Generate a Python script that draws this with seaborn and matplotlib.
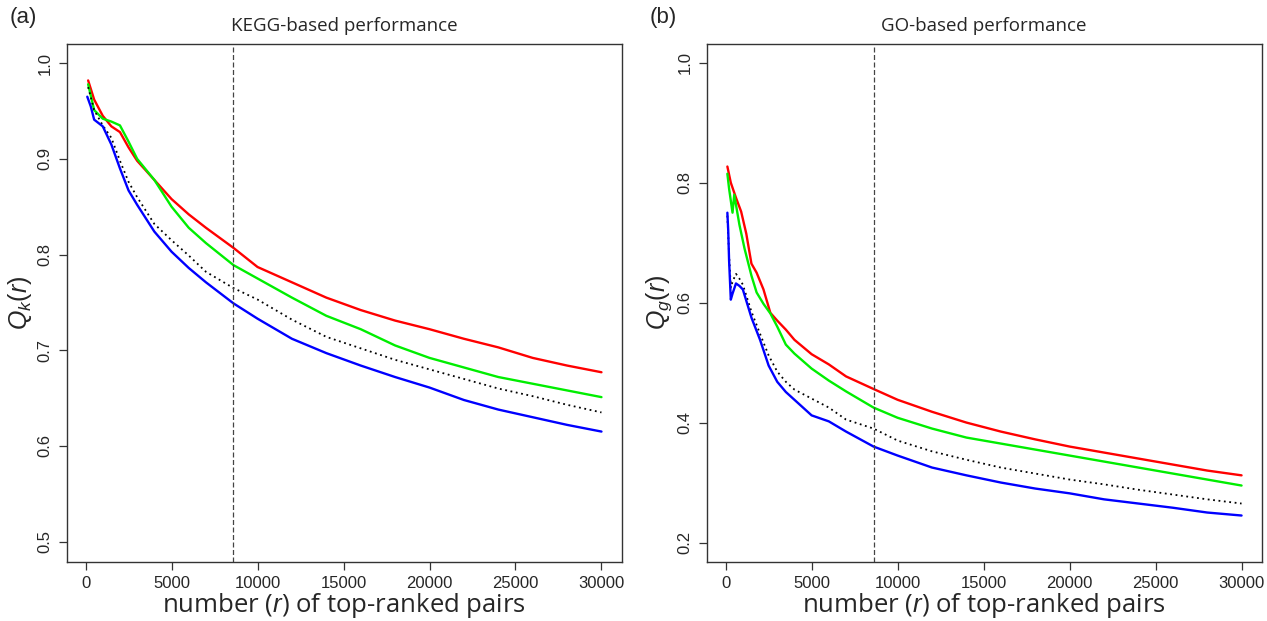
import matplotlib
matplotlib.use('Agg')
import matplotlib.pyplot as plt
import pandas as pd
import seaborn as sns

# ---- panel (a): KEGG ----
kegg_red_x = [150, 500, 1000, 1500, 2000, 2500, 3000, 4000, 5000, 6000, 7000, 8600, 10000, 12000,
              14000, 16000, 18000, 20000, 22000, 24000, 26000, 28000, 30000]
kegg_red_y = [0.982, 0.962, 0.945, 0.934, 0.928, 0.912, 0.898, 0.878, 0.858, 0.842, 0.828, 0.807, 0.787,
              0.771, 0.755, 0.742, 0.731, 0.722, 0.712, 0.703, 0.692, 0.684, 0.677]

kegg_green_x = kegg_red_x
kegg_green_y = [0.978, 0.951, 0.942, 0.939, 0.935, 0.918, 0.900, 0.878, 0.850, 0.828, 0.812, 0.789, 0.775,
                0.755, 0.736, 0.722, 0.705, 0.692, 0.682, 0.672, 0.665, 0.658, 0.651]

kegg_black_x = kegg_red_x
kegg_black_y = [0.975, 0.951, 0.935, 0.922, 0.898, 0.876, 0.860, 0.832, 0.815, 0.799, 0.782, 0.765, 0.753,
                0.732, 0.714, 0.702, 0.690, 0.680, 0.670, 0.660, 0.652, 0.643, 0.635]

kegg_blue_x = [100, 300, 500, 1000, 1500, 2000, 2500, 3000, 4000, 5000, 6000, 7000, 8600, 10000, 12000,
               14000, 16000, 18000, 20000, 22000, 24000, 26000, 28000, 30000]
kegg_blue_y = [0.965, 0.955, 0.941, 0.934, 0.915, 0.890, 0.867, 0.852, 0.824, 0.803, 0.786, 0.771, 0.749,
               0.733, 0.712, 0.697, 0.684, 0.672, 0.661, 0.648, 0.638, 0.630, 0.622, 0.615]

# ---- panel (b): GO ----
go_red_x = [100, 300, 600, 900, 1200, 1500, 1800, 2200, 2600, 3000, 3500, 4000, 5000, 6000, 7000, 8600,
            10000, 12000, 14000, 16000, 18000, 20000, 22000, 24000, 26000, 28000, 30000]
go_red_y = [0.827, 0.800, 0.775, 0.752, 0.715, 0.665, 0.650, 0.622, 0.583, 0.570, 0.555, 0.538, 0.514,
            0.497, 0.477, 0.456, 0.438, 0.418, 0.400, 0.385, 0.372, 0.360, 0.350, 0.340, 0.330, 0.320, 0.312]

go_green_x = [100, 200, 400, 500, 800, 1100, 1500, 1800, 2200, 2600, 3000, 3500, 4000, 5000, 6000, 7000,
              8600, 10000, 12000, 14000, 16000, 18000, 20000, 22000, 24000, 26000, 28000, 30000]
go_green_y = [0.815, 0.790, 0.750, 0.780, 0.730, 0.690, 0.645, 0.617, 0.598, 0.582, 0.560, 0.530, 0.515,
              0.490, 0.470, 0.452, 0.425, 0.408, 0.390, 0.375, 0.365, 0.355, 0.345, 0.335, 0.325, 0.315,
              0.305, 0.295]

go_black_x = [100, 200, 300, 400, 600, 800, 1000, 1500, 2000, 2500, 3000, 3500, 4000, 5000, 6000, 7000,
              8600, 10000, 12000, 14000, 16000, 18000, 20000, 22000, 24000, 26000, 28000, 30000]
go_black_y = [0.745, 0.680, 0.625, 0.635, 0.648, 0.640, 0.630, 0.585, 0.548, 0.512, 0.485, 0.468, 0.455,
              0.440, 0.425, 0.405, 0.390, 0.370, 0.352, 0.338, 0.325, 0.315, 0.305, 0.297, 0.288, 0.280,
              0.272, 0.265]

go_blue_x = [100, 150, 200, 300, 400, 600, 800, 1000, 1500, 2000, 2500, 3000, 3500, 4000, 5000, 6000,
             7000, 8600, 10000, 12000, 14000, 16000, 18000, 20000, 22000, 24000, 26000, 28000, 30000]
go_blue_y = [0.750, 0.720, 0.670, 0.605, 0.615, 0.632, 0.628, 0.622, 0.575, 0.538, 0.495, 0.468, 0.451,
             0.438, 0.412, 0.402, 0.385, 0.360, 0.345, 0.325, 0.312, 0.300, 0.290, 0.282, 0.272, 0.265,
             0.258, 0.250, 0.245]

cutoff = 8600
x_ticks = [0, 5000, 10000, 15000, 20000, 25000, 30000]
kegg_yticks = [0.5, 0.6, 0.7, 0.8, 0.9, 1.0]
go_yticks = [0.2, 0.4, 0.6, 0.8, 1.0]

sns.set_style('white')
plt.rcParams['font.family'] = ['Liberation Sans', 'DejaVu Sans']
plt.rcParams['mathtext.fontset'] = 'custom'
plt.rcParams['mathtext.it'] = 'Liberation Sans:italic'
plt.rcParams['mathtext.rm'] = 'Liberation Sans'

fig = plt.figure(figsize=(12.67, 6.21), dpi=100)
ax_a = fig.add_axes([0.0526, 0.0955, 0.438, 0.8343])
ax_b = fig.add_axes([0.5578, 0.0955, 0.438, 0.8343])


def _draw_panel(ax, series, yticks, ylim, ylabel, title, tag):
    for xs, ys, color, ls, lw in series:
        df = pd.DataFrame({'r': xs, 'q': ys})
        sns.lineplot(data=df, x='r', y='q', ax=ax, color=color, linestyle=ls, linewidth=lw)
    ax.axvline(cutoff, color='#444444', linestyle=(0, (4, 2)), linewidth=0.9)
    ax.set_xlim(-1100, 31170)
    ax.set_ylim(*ylim)
    ax.set_xticks(x_ticks)
    ax.set_xticklabels([str(t) for t in x_ticks])
    ax.set_yticks(yticks)
    ax.set_yticklabels([f'{t:.1f}' for t in yticks], rotation=90, va='center')
    ax.tick_params(direction='out', length=6, width=0.9, color='#333333', labelsize=12, pad=4,
                   bottom=True, left=True)
    for sp in ax.spines.values():
        sp.set_color('#333333')
        sp.set_linewidth(1.0)
    ax.set_xlabel('number ($r$) of top-ranked pairs', fontsize=18.5, family=['Open Sans', 'DejaVu Sans'],
                  labelpad=0)
    ax.set_ylabel(ylabel, fontsize=18, labelpad=3)
    ax.set_title(title, fontsize=13.5, family=['Open Sans', 'DejaVu Sans'], pad=9)
    ax.text(-0.103, 1.03, tag, transform=ax.transAxes, fontsize=16, ha='left', va='bottom')


_draw_panel(ax_a,
            [(kegg_red_x, kegg_red_y, '#ff0000', '-', 1.7),
             (kegg_green_x, kegg_green_y, '#00ee00', '-', 1.7),
             (kegg_black_x, kegg_black_y, 'black', (0, (1, 2)), 1.3),
             (kegg_blue_x, kegg_blue_y, '#0000ff', '-', 1.7)],
            kegg_yticks, (0.479, 1.0205), '$Q_k(r)$', 'KEGG-based performance', '(a)')

_draw_panel(ax_b,
            [(go_red_x, go_red_y, '#ff0000', '-', 1.7),
             (go_green_x, go_green_y, '#00ee00', '-', 1.7),
             (go_black_x, go_black_y, 'black', (0, (1, 2)), 1.3),
             (go_blue_x, go_blue_y, '#0000ff', '-', 1.7)],
            go_yticks, (0.168, 1.032), '$Q_g(r)$', 'GO-based performance', '(b)')

fig.savefig('out.png', dpi=100)
